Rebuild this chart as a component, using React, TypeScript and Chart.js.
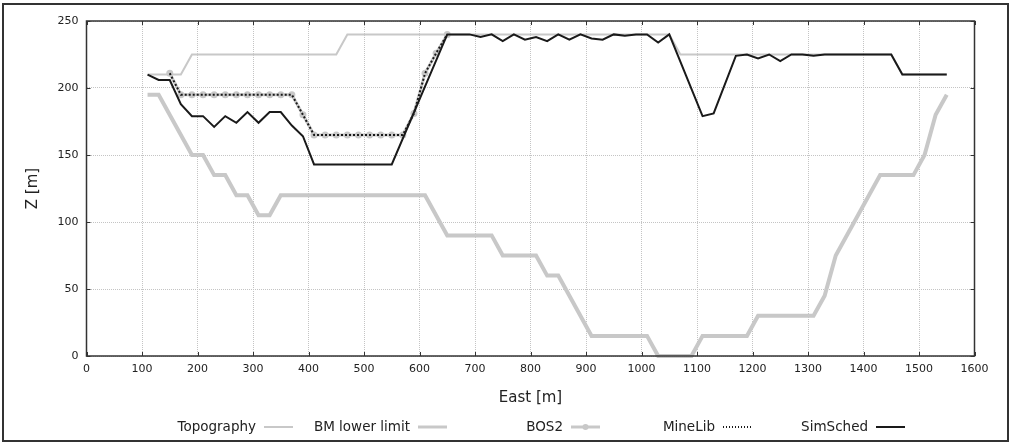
import React, { useEffect, useRef } from "react";
import { Chart, registerables } from "chart.js";

Chart.register(...registerables);

// ---- Data (East [m], Z [m]) ----
const topoX = [110, 170, 190, 450, 470, 1050, 1070, 1450, 1470, 1550];
const topoZ = [210, 210, 225, 225, 240, 240, 225, 225, 210, 210];

const bmX = [110, 130, 190, 210, 230, 250, 270, 290, 310, 330, 350, 610, 650, 730, 750, 810, 830, 850, 910, 1010, 1030, 1090, 1110, 1190, 1210, 1310, 1330, 1350, 1430, 1490, 1510, 1530, 1550];
const bmZ = [195, 195, 150, 150, 135, 135, 120, 120, 105, 105, 120, 120, 90, 90, 75, 75, 60, 60, 15, 15, 0, 0, 15, 15, 30, 30, 45, 75, 135, 135, 150, 180, 195];

const pitX = [150, 170, 190, 210, 230, 250, 270, 290, 310, 330, 350, 370, 390, 410, 430, 450, 470, 490, 510, 530, 550, 570, 590, 610, 630, 650];
const bos2Z = [211, 195, 195, 195, 195, 195, 195, 195, 195, 195, 195, 195, 180, 165, 165, 165, 165, 165, 165, 165, 165, 165, 181, 211, 226, 240];
const mineLibZ = [211, 195, 195, 195, 195, 195, 195, 195, 195, 195, 195, 195, 180, 165, 165, 165, 165, 165, 165, 165, 165, 165, 181, 211, 226, 240];

const simX = [110, 130, 150, 170, 190, 210, 230, 250, 270, 290, 310, 330, 350, 370, 390, 410, 550, 650, 670, 690, 710, 730, 750, 770, 790, 810, 830, 850, 870, 890, 910, 930, 950, 970, 990, 1010, 1030, 1050, 1110, 1130, 1170, 1190, 1210, 1230, 1250, 1270, 1290, 1310, 1330, 1450, 1470, 1550];
const simZ = [210, 206, 206, 188, 179, 179, 171, 179, 174, 182, 174, 182, 182, 172, 164, 143, 143, 240, 240, 240, 238, 240, 235, 240, 236, 238, 235, 240, 236, 240, 237, 236, 240, 239, 240, 240, 234, 240, 179, 181, 224, 225, 222, 225, 220, 225, 225, 224, 225, 225, 210, 210];

const seriesLabels = ["Topography", "BM lower limit", "BOS2", "MineLib", "SimSched"];
const xTitle = "East [m]";
const yTitle = "Z [m]";

const pts = (xs: number[], ys: number[]) => xs.map((x, i) => ({ x, y: ys[i] }));

const FONT = '"DejaVu Sans", Verdana, sans-serif';

const framePlugin = {
  id: "frame",
  beforeDraw(chart: any) {
    const ctx = chart.ctx;
    ctx.save();
    ctx.fillStyle = "#fff";
    ctx.fillRect(0, 0, chart.width, chart.height);
    ctx.strokeStyle = "#333";
    ctx.lineWidth = 2;
    ctx.strokeRect(3, 4, 1005, 437);
    ctx.restore();
  },
  afterDatasetsDraw(chart: any) {
    const ctx = chart.ctx;
    const a = chart.chartArea;
    const xs = chart.scales.x;
    const ys = chart.scales.y;
    ctx.save();
    ctx.strokeStyle = "#333";
    ctx.lineWidth = 1.5;
    ctx.setLineDash([]);
    ctx.strokeRect(a.left, a.top, a.right - a.left, a.bottom - a.top);
    ctx.lineWidth = 1;
    ctx.beginPath();
    xs.ticks.forEach((t: any) => {
      const px = Math.round(xs.getPixelForValue(t.value)) + 0.5;
      ctx.moveTo(px, a.top);
      ctx.lineTo(px, a.top + 4);
      ctx.moveTo(px, a.bottom);
      ctx.lineTo(px, a.bottom - 4);
    });
    ys.ticks.forEach((t: any) => {
      const py = Math.round(ys.getPixelForValue(t.value)) + 0.5;
      ctx.moveTo(a.left, py);
      ctx.lineTo(a.left + 4, py);
      ctx.moveTo(a.right, py);
      ctx.lineTo(a.right - 4, py);
    });
    ctx.stroke();
    ctx.restore();
  },
  afterDraw(chart: any) {
    const ctx = chart.ctx;
    const rights = [293, 447, 600, 752, 905];
    const y = 427;
    const sampleLen = 29;
    ctx.save();
    ctx.font = `13.5px ${FONT}`;
    ctx.textAlign = "right";
    ctx.textBaseline = "middle";
    chart.data.datasets.forEach((ds: any, i: number) => {
      const r = rights[i];
      const s0 = r - sampleLen;
      ctx.fillStyle = "#222";
      ctx.fillText(ds.label, s0 - 8, y);
      ctx.strokeStyle = ds.borderColor;
      ctx.lineWidth = Math.min(ds.borderWidth, 3);
      ctx.setLineDash(ds.borderDash ? [1, 2] : []);
      ctx.beginPath();
      ctx.moveTo(s0, y);
      ctx.lineTo(r, y);
      ctx.stroke();
      if (ds.pointRadius > 0) {
        ctx.setLineDash([]);
        ctx.fillStyle = ds.pointBackgroundColor;
        ctx.beginPath();
        ctx.arc((s0 + r) / 2, y, 3, 0, Math.PI * 2);
        ctx.fill();
      }
    });
    ctx.restore();
  },
};

export default function App() {
  const ref = useRef<HTMLCanvasElement | null>(null);

  useEffect(() => {
    if (!ref.current) return;
    const chart = new Chart(ref.current, {
      type: "line",
      data: {
        datasets: [
          {
            label: seriesLabels[0],
            data: pts(topoX, topoZ),
            borderColor: "#c8c8c8",
            borderWidth: 2,
            pointRadius: 0,
            tension: 0,
            order: 5,
            clip: false as any,
          },
          {
            label: seriesLabels[1],
            data: pts(bmX, bmZ),
            borderColor: "#c8c8c8",
            borderWidth: 4,
            pointRadius: 0,
            tension: 0,
            order: 4,
            clip: false as any,
          },
          {
            label: seriesLabels[2],
            data: pts(pitX, bos2Z),
            borderColor: "#c8c8c8",
            borderWidth: 3,
            pointRadius: 3.5,
            pointBackgroundColor: "#c8c8c8",
            pointBorderWidth: 0,
            tension: 0,
            order: 3,
          },
          {
            label: seriesLabels[3],
            data: pts(pitX, mineLibZ),
            borderColor: "#1a1a1a",
            borderWidth: 2,
            borderDash: [2, 2],
            pointRadius: 0,
            tension: 0,
            order: 2,
          },
          {
            label: seriesLabels[4],
            data: pts(simX, simZ),
            borderColor: "#1a1a1a",
            borderWidth: 2,
            pointRadius: 0,
            tension: 0,
            order: 1,
          },
        ],
      },
      options: {
        animation: false,
        responsive: false,
        devicePixelRatio: 1,
        layout: { padding: { top: 21, right: 38.5, left: 0, bottom: 0 } },
        plugins: { legend: { display: false }, tooltip: { enabled: false } },
        scales: {
          x: {
            type: "linear",
            min: 0,
            max: 1600,
            afterFit: (s: any) => {
              s.height = 89;
            },
            ticks: {
              stepSize: 100,
              maxRotation: 0,
              autoSkip: false,
              padding: 7,
              color: "#222",
              font: { family: FONT, size: 11 },
              callback: (v: any) => String(v),
            },
            grid: { color: "#c4c4c4", lineWidth: 1, drawTicks: false },
            border: { display: false, dash: [1, 1] },
            title: {
              display: true,
              text: xTitle,
              color: "#222",
              font: { family: FONT, size: 15 },
              padding: { top: 0, bottom: 38 },
            },
          },
          y: {
            type: "linear",
            min: 0,
            max: 250,
            afterFit: (s: any) => {
              s.width = 86.5;
            },
            ticks: {
              stepSize: 50,
              padding: 8,
              color: "#222",
              font: { family: FONT, size: 11 },
              callback: (v: any) => String(v),
            },
            grid: { color: "#c4c4c4", lineWidth: 1, drawTicks: false },
            border: { display: false, dash: [1, 1] },
            title: {
              display: true,
              text: yTitle,
              color: "#222",
              font: { family: FONT, size: 15 },
              padding: { top: 24, bottom: 0 },
            },
          },
        },
      },
      plugins: [framePlugin],
    });
    return () => chart.destroy();
  }, []);

  return (
    <div style={{ position: "absolute", left: 0, top: 0, width: 1013, height: 445 }}>
      <canvas ref={ref} width={1013} height={445} style={{ display: "block" }} />
    </div>
  );
}
